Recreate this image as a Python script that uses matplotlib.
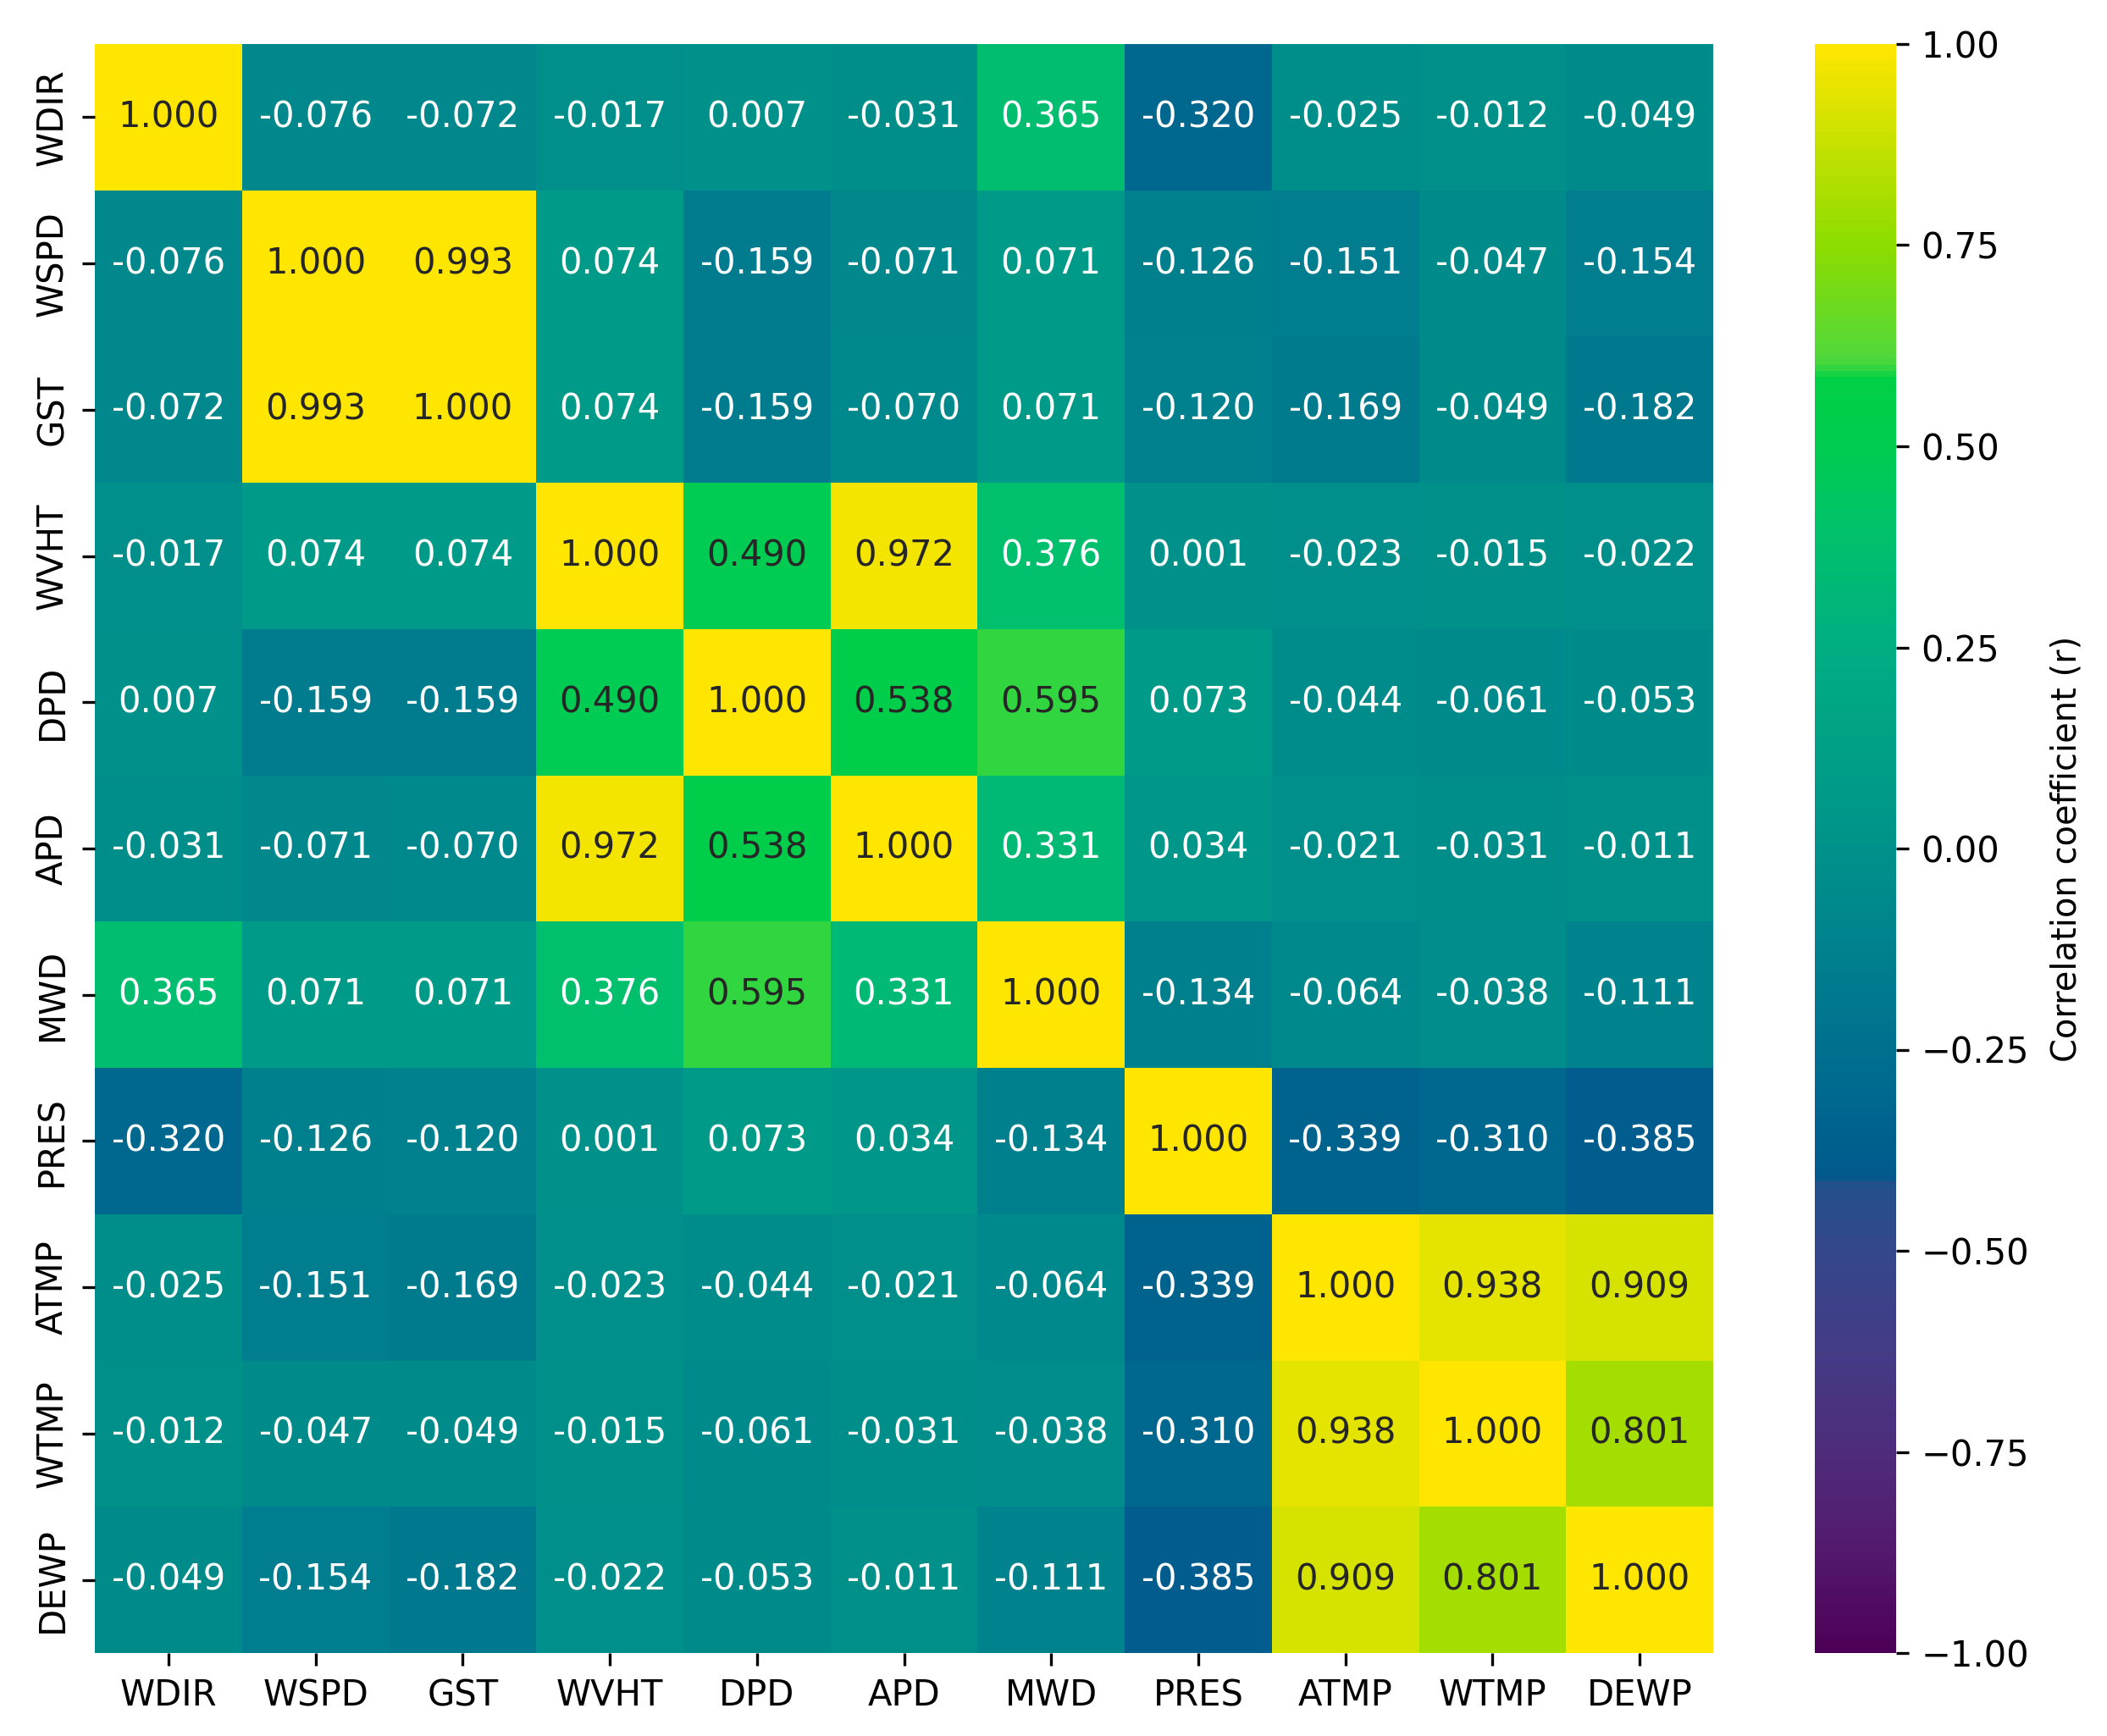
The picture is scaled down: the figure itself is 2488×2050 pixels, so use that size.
import numpy as np
import matplotlib
matplotlib.use("Agg")
import matplotlib.pyplot as plt
import seaborn as sns
from matplotlib.colors import LinearSegmentedColormap

# variable names (rows and columns)
variables = ["WDIR", "WSPD", "GST", "WVHT", "DPD", "APD", "MWD", "PRES", "ATMP", "WTMP", "DEWP"]

# correlation matrix, one row per variable
r_wdir = [1.000, -0.076, -0.072, -0.017, 0.007, -0.031, 0.365, -0.320, -0.025, -0.012, -0.049]
r_wspd = [-0.076, 1.000, 0.993, 0.074, -0.159, -0.071, 0.071, -0.126, -0.151, -0.047, -0.154]
r_gst = [-0.072, 0.993, 1.000, 0.074, -0.159, -0.070, 0.071, -0.120, -0.169, -0.049, -0.182]
r_wvht = [-0.017, 0.074, 0.074, 1.000, 0.490, 0.972, 0.376, 0.001, -0.023, -0.015, -0.022]
r_dpd = [0.007, -0.159, -0.159, 0.490, 1.000, 0.538, 0.595, 0.073, -0.044, -0.061, -0.053]
r_apd = [-0.031, -0.071, -0.070, 0.972, 0.538, 1.000, 0.331, 0.034, -0.021, -0.031, -0.011]
r_mwd = [0.365, 0.071, 0.071, 0.376, 0.595, 0.331, 1.000, -0.134, -0.064, -0.038, -0.111]
r_pres = [-0.320, -0.126, -0.120, 0.001, 0.073, 0.034, -0.134, 1.000, -0.339, -0.310, -0.385]
r_atmp = [-0.025, -0.151, -0.169, -0.023, -0.044, -0.021, -0.064, -0.339, 1.000, 0.938, 0.909]
r_wtmp = [-0.012, -0.047, -0.049, -0.015, -0.061, -0.031, -0.038, -0.310, 0.938, 1.000, 0.801]
r_dewp = [-0.049, -0.154, -0.182, -0.022, -0.053, -0.011, -0.111, -0.385, 0.909, 0.801, 1.000]

corr = np.array([r_wdir, r_wspd, r_gst, r_wvht, r_dpd, r_apd,
                 r_mwd, r_pres, r_atmp, r_wtmp, r_dewp])

cbar_ticks = [-1, -0.75, -0.5, -0.25, 0, 0.25, 0.5, 0.75, 1]

# --- viridis-like colour scale, picked off the colorbar (value, colour) ---
anchors = [
    (-1.00, "#4d0057"),
    (-0.875, "#531a6e"),
    (-0.75, "#4e2c7c"),
    (-0.625, "#433c86"),
    (-0.50, "#34478a"),
    (-0.42, "#22508a"),
    (-0.41, "#005a8c"),
    (-0.25, "#007090"),
    (0.00, "#00928a"),
    (0.25, "#00ae82"),
    (0.40, "#00c26a"),
    (0.50, "#00cc50"),
    (0.585, "#00d045"),
    (0.61, "#50d83c"),
    (0.75, "#8cdc00"),
    (0.85, "#b8e000"),
    (1.00, "#ffe600"),
]
cmap = LinearSegmentedColormap.from_list(
    "corr", [((v + 1) / 2, c) for v, c in anchors])

fig = plt.figure(figsize=(2488 / 300, 2050 / 300), dpi=300)
ax = fig.add_axes([112 / 2488, 98 / 2050, 1911 / 2488, 1900 / 2050])
cax = fig.add_axes([2143 / 2488, 98 / 2050, 96 / 2488, 1900 / 2050])

sns.heatmap(corr, ax=ax, cbar_ax=cax, cmap=cmap, vmin=-1, vmax=1,
            annot=True, fmt=".3f", annot_kws={"fontsize": 10},
            xticklabels=variables, yticklabels=variables,
            cbar_kws={"ticks": cbar_ticks})

ax.tick_params(labelsize=10)
ax.set_yticklabels(variables, rotation=90, va="center")
ax.set_xticklabels(variables, rotation=0)

# colorbar: unicode minus like the default formatter
cax.tick_params(labelsize=10)
cax.yaxis.set_major_formatter(
    matplotlib.ticker.FuncFormatter(lambda v, p: f"{v:.2f}".replace("-", "\u2212")))
cax.set_ylabel("Correlation coefficient (r)", fontsize=9.6, labelpad=6)

fig.savefig("out.png", dpi=300)
